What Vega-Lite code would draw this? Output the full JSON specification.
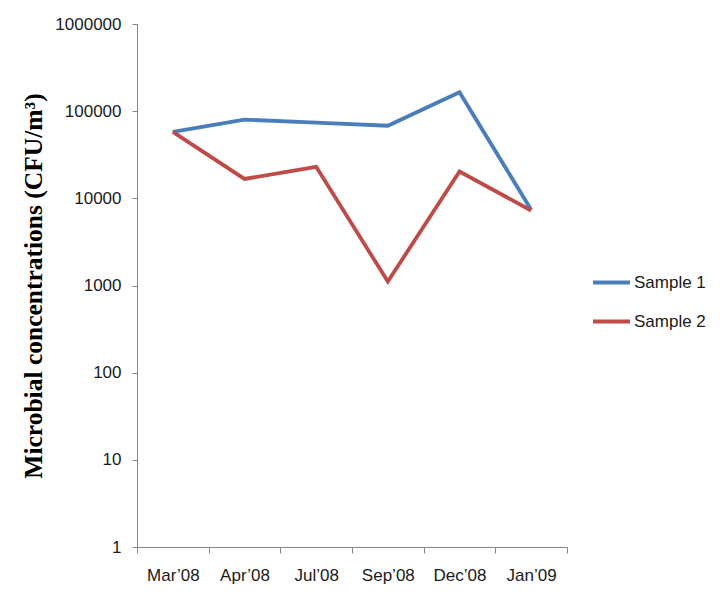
{
  "$schema": "https://vega.github.io/schema/vega-lite/v6.json",
  "width": 430,
  "height": 523,
  "autosize": "none",
  "padding": {"left": 137, "top": 24, "right": 158, "bottom": 57},
  "background": "white",
  "config": {
    "view": {"stroke": null},
    "font": "Liberation Sans"
  },
  "data": {
    "values": [
      {"month": "Mar’08", "series": "Sample 1", "value": 58000},
      {"month": "Apr’08", "series": "Sample 1", "value": 80000},
      {"month": "Jul’08", "series": "Sample 1", "value": 74000},
      {"month": "Sep’08", "series": "Sample 1", "value": 68000},
      {"month": "Dec’08", "series": "Sample 1", "value": 165000},
      {"month": "Jan’09", "series": "Sample 1", "value": 7400},
      {"month": "Mar’08", "series": "Sample 2", "value": 58000},
      {"month": "Apr’08", "series": "Sample 2", "value": 16700},
      {"month": "Jul’08", "series": "Sample 2", "value": 23000},
      {"month": "Sep’08", "series": "Sample 2", "value": 1110},
      {"month": "Dec’08", "series": "Sample 2", "value": 20300},
      {"month": "Jan’09", "series": "Sample 2", "value": 7250}
    ]
  },
  "mark": {"type": "line", "strokeWidth": 3.8, "strokeJoin": "miter"},
  "encoding": {
    "x": {
      "field": "month",
      "type": "ordinal",
      "sort": null,
      "bandPosition": 0.5,
      "scale": {"type": "band", "paddingInner": 0, "paddingOuter": 0},
      "axis": {
        "title": null,
        "tickBand": "extent",
        "labelAngle": 0,
        "labelFontSize": 17,
        "labelColor": "#1a1a1a",
        "labelPadding": 14,
        "tickSize": 6,
        "tickColor": "#868686",
        "domainColor": "#868686",
        "grid": false
      }
    },
    "y": {
      "field": "value",
      "type": "quantitative",
      "scale": {"type": "log", "domain": [1, 1000000], "nice": false},
      "axis": {
        "title": "Microbial concentrations  (CFU/m³)",
        "titleFont": "Liberation Serif",
        "titleFontWeight": "bold",
        "titleFontSize": 25.5,
        "titleColor": "#000000",
        "titlePadding": 8,
        "values": [1, 10, 100, 1000, 10000, 100000, 1000000],
        "format": "d",
        "labelFontSize": 17,
        "labelColor": "#1a1a1a",
        "labelPadding": 11,
        "tickSize": 5,
        "tickColor": "#868686",
        "domainColor": "#868686",
        "grid": false
      }
    },
    "color": {
      "field": "series",
      "type": "nominal",
      "scale": {"domain": ["Sample 1", "Sample 2"], "range": ["#4A7EBB", "#BE4B48"]},
      "legend": {
        "title": null,
        "orient": "none",
        "legendX": 454,
        "legendY": 238,
        "symbolType": "stroke",
        "symbolSize": 1369,
        "symbolStrokeWidth": 4,
        "labelFontSize": 17,
        "labelColor": "#1a1a1a",
        "labelOffset": 2,
        "rowPadding": 10
      }
    }
  }
}
